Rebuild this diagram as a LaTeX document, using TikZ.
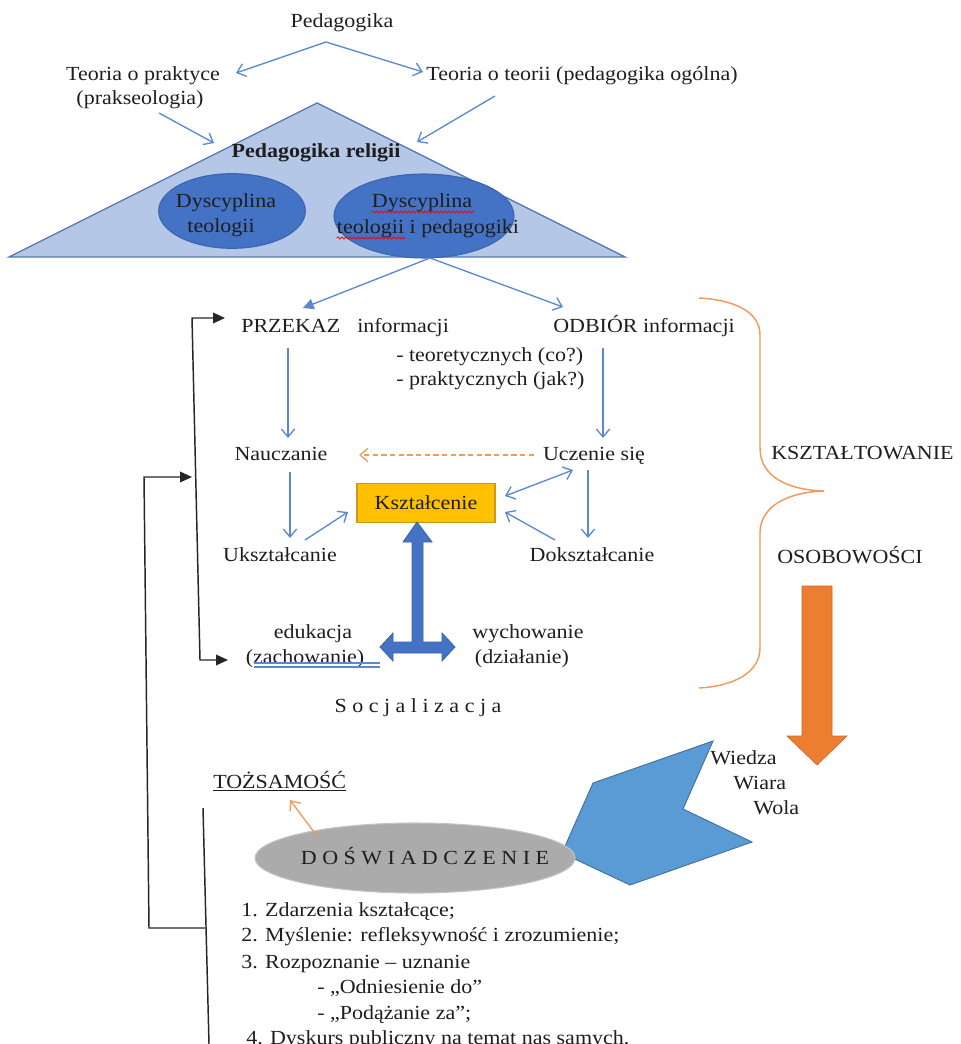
\documentclass[tikz,border=0pt]{standalone}
\usepackage{fontspec}
\setmainfont[FakeStretch=1.1]{Liberation Serif}
\usetikzlibrary{arrows.meta,shapes.geometric,decorations.pathmorphing}
\definecolor{txt}{HTML}{1E1E1E}
\definecolor{lblue}{RGB}{91,137,207}
\definecolor{trifill}{HTML}{B4C7E7}
\definecolor{triline}{HTML}{5479B8}
\definecolor{ellfill}{HTML}{4472C4}
\definecolor{ellline}{HTML}{3A64AE}
\definecolor{gold}{HTML}{FFC000}
\definecolor{goldline}{HTML}{C99A1C}
\definecolor{orng}{HTML}{ED7D31}
\definecolor{orline}{HTML}{F29A5C}
\definecolor{polyfill}{HTML}{5B9BD5}
\definecolor{polyline}{HTML}{41719C}
\definecolor{grayfill}{HTML}{ABABAB}
\definecolor{grayline}{HTML}{C4C4C4}
\tikzset{
  tx/.style={text=txt, inner sep=0pt, text height=11pt, text depth=2pt},
  blar/.style={draw=lblue, line width=1pt, -{Straight Barb[length=6pt,width=10pt]}},
  blfill/.style={draw=lblue, line width=1pt, -{Triangle[length=8pt,width=8pt]}},
  blboth/.style={draw=lblue, line width=1pt, {Straight Barb[length=6pt,width=10pt]}-{Straight Barb[length=6pt,width=10pt]}},
  orar/.style={draw=orline, line width=1pt, -{Straight Barb[length=6pt,width=10pt]}},
  blk/.style={draw=black!85, line width=1.1pt},
  blkboth/.style={{Triangle[length=9pt,width=8pt]}-{Triangle[length=9pt,width=8pt]}},
  blkstart/.style={{Triangle[length=9pt,width=8pt]}-}
}
\begin{document}
\begin{tikzpicture}[x=0.75pt,y=-0.75pt,font=\fontsize{15}{18}\selectfont]
\useasboundingbox (0,0) rectangle (960,1044);

% ---------- top ----------
\node[tx] (ped) at (342,22) {Pedagogika};
\node[tx] (tp) at (143,75) {Teoria o praktyce};
\node[tx] (tpb) at (140,99) {(prakseologia)};
\node[tx] (tt) at (582,75) {Teoria o teorii (pedagogika ogólna)};
\coordinate (pedS) at (326,42);
\coordinate (tpTip) at (236,73);
\coordinate (ttTip) at (423,72);
\draw[blar] (pedS) -- (tpTip);
\draw[blar] (pedS) -- (ttTip);

% triangle
\draw[fill=trifill, draw=triline, line width=1pt] (317,103) -- (625,257) -- (9,257) -- cycle;
\node[tx,font=\fontsize{15}{18}\selectfont\bfseries] (pr) at (316,152) {Pedagogika religii};
\coordinate (tpS) at (159,113);
\coordinate (prL) at (214,143);
\coordinate (ttS) at (495,96);
\coordinate (prR) at (417,142);
\draw[blar] (tpS) -- (prL);
\draw[blar] (ttS) -- (prR);

\node[ellipse, fill=ellfill, draw=ellline, line width=0.8pt, minimum width=110pt, minimum height=56pt, inner sep=0pt] (e1) at (232,211) {};
\node[ellipse, fill=ellfill, draw=ellline, line width=0.8pt, minimum width=135pt, minimum height=63pt, inner sep=0pt] (e2) at (424,216) {};
\node[tx] (e1a) at (226,202) {Dyscyplina};
\node[tx] (e1b) at (221,227) {teologii};
\node[tx] (e2a) at (422,202) {Dyscyplina};
\node[tx] (e2b) at (428,228) {teologii i pedagogiki};
\draw[red, line width=0.6pt, decorate, decoration={snake, amplitude=0.8pt, segment length=3pt}] (e2a.base west) ++(0,4) -- ++(103,0);
\draw[red, line width=0.6pt, decorate, decoration={snake, amplitude=0.8pt, segment length=3pt}] (e2b.base west) ++(0,4) -- ++(69,0);

% ---------- middle ----------
\node[tx,anchor=west] (prz) at (241,327) {PRZEKAZ};
\node[tx,anchor=west] (inf) at (357,327) {informacji};
\node[tx,anchor=west] (odb) at (553,327) {ODBIÓR informacji};
\node[tx,anchor=west] (teo) at (396,355) {- teoretycznych (co?)};
\node[tx,anchor=west] (pra) at (396,379) {- praktycznych (jak?)};
\coordinate (e2S) at (430,258);
\coordinate (przTip) at (303,308);
\coordinate (odbTip) at (563,307);
\draw[blfill] (e2S) -- (przTip);
\draw[blar] (e2S) -- (odbTip);

\node[tx] (nau) at (281,454) {Nauczanie};
\node[tx] (ucz) at (594,454) {Uczenie się};
\coordinate (przB) at (288,348);
\coordinate (nauT) at (288,438);
\coordinate (odbB) at (603,348);
\coordinate (uczT) at (603,438);
\draw[blar] (przB) -- (nauT);
\draw[blar] (odbB) -- (uczT);
\coordinate (uczW) at (534,455);
\coordinate (nauE) at (359,455);
\draw[orar, dashed, dash pattern=on 4pt off 2.5pt] (uczW) -- (nauE);

\node[draw=goldline, fill=gold, line width=0.8pt, minimum width=103.5pt, minimum height=29pt, inner sep=0pt, text=txt] (ksz) at (426,503) {Kształcenie};
\node[tx] (uks) at (280,555) {Ukształcanie};
\node[tx] (dok) at (592,555) {Dokształcanie};
\coordinate (nauB) at (290,472);
\coordinate (uksT) at (290,538);
\coordinate (uksE) at (305,540);
\coordinate (kszW) at (348,512);
\coordinate (kszE1) at (505,496);
\coordinate (uczS) at (573,470);
\coordinate (uczB) at (588,470);
\coordinate (dokT) at (588,538);
\coordinate (dokW) at (555,540);
\coordinate (kszE2) at (505,512);
\draw[blar] (nauB) -- (uksT);
\draw[blar] (uksE) -- (kszW);
\draw[blboth] (kszE1) -- (uczS);
\draw[blar] (uczB) -- (dokT);
\draw[blar] (dokW) -- (kszE2);

% big T arrow
\draw[fill=ellfill, draw=ellline, line width=0.6pt]
  (417,522) -- (432,542) -- (423,542) -- (423,642) -- (442,642) -- (442,633) -- (455,647)
  -- (442,661) -- (442,653) -- (393,653) -- (393,661) -- (380,647) -- (393,633) -- (393,642)
  -- (412,642) -- (412,542) -- (403,542) -- cycle;

\node[tx] (edu) at (313,632) {edukacja};
\node[tx] (zach) at (305,657) {(zachowanie)};
\node[tx] (wyc) at (528,632) {wychowanie};
\node[tx] (dzi) at (522,657) {(działanie)};
\draw[draw=lblue, line width=0.8pt] (254,663) -- (380,663);
\draw[draw=lblue, line width=0.8pt] (254,667) -- (380,667);
\node[tx] (soc) at (418,706) {S o c j a l i z a c j a};

% brace
\draw[draw=orline, line width=1.1pt] (699,298) .. controls (735,300) and (760,312) .. (760,335)
  -- (760,448) .. controls (760,478) and (790,490) .. (824,491)
  .. controls (790,492) and (760,505) .. (760,533)
  -- (760,648) .. controls (760,672) and (735,686) .. (699,688);
\node[tx,anchor=west] (ksztal) at (771,453) {KSZTAŁTOWANIE};
\node[tx,anchor=west] (osob) at (777,557) {OSOBOWOŚCI};

% orange arrow
\draw[fill=orng, draw=orng!85!black, line width=0.5pt]
  (802,586) -- (832,586) -- (832,736) -- (847,736) -- (817,765) -- (787,736) -- (802,736) -- cycle;

% blue polygon
\draw[fill=polyfill, draw=polyline, line width=0.7pt]
  (713,741) -- (683,809) -- (752,842) -- (630,885) -- (562,853) -- (593,783) -- cycle;
\node[tx,anchor=west] (wie) at (710,758) {Wiedza};
\node[tx,anchor=west] (wia) at (733,783) {Wiara};
\node[tx,anchor=west] (wol) at (753,808) {Wola};

% ---------- bottom ----------
\node[tx,anchor=west] (toz) at (213,782) {\underline{TOŻSAMOŚĆ}};
\node[ellipse, fill=grayfill, draw=grayline, line width=0.8pt, minimum width=240pt, minimum height=52.5pt, inner sep=0pt] (dos) at (415,858) {};
\node[tx] (dost) at (425,858) {D O Ś W I A D C Z E N I E};
\coordinate (dosT) at (317,836);
\coordinate (tozT) at (290,800);
\draw[orar] (dosT) -- (tozT);

\node[tx,anchor=west] (l1) at (241,910) {1. Zdarzenia kształcące;};
\node[tx,anchor=west] (l2) at (241,935) {2. Myślenie: refleksywność i zrozumienie;};
\node[tx,anchor=west] (l3) at (241,962) {3. Rozpoznanie – uznanie};
\node[tx,anchor=west] (l3a) at (317,987) {- „Odniesienie do”};
\node[tx,anchor=west] (l3b) at (317,1013) {- „Podążanie za”;};
\node[tx,anchor=west] (l4) at (246,1038) {4. Dyskurs publiczny na temat nas samych.};

% black brackets
\coordinate (b1) at (225,318);
\coordinate (b2) at (192,318);
\coordinate (b3) at (200,660);
\coordinate (b4) at (228,660);
\draw[blk, blkboth] (b1) -- (b2) -- (b3) -- (b4);
\coordinate (c1) at (192,477);
\coordinate (c2) at (144,477);
\coordinate (c3) at (149,928);
\coordinate (c4) at (205,928);
\draw[blk, blkstart] (c1) -- (c2) -- (c3) -- (c4);
\coordinate (d1) at (203,808);
\coordinate (d2) at (209,1044);
\draw[blk] (d1) -- (d2);
\end{tikzpicture}
\end{document}
